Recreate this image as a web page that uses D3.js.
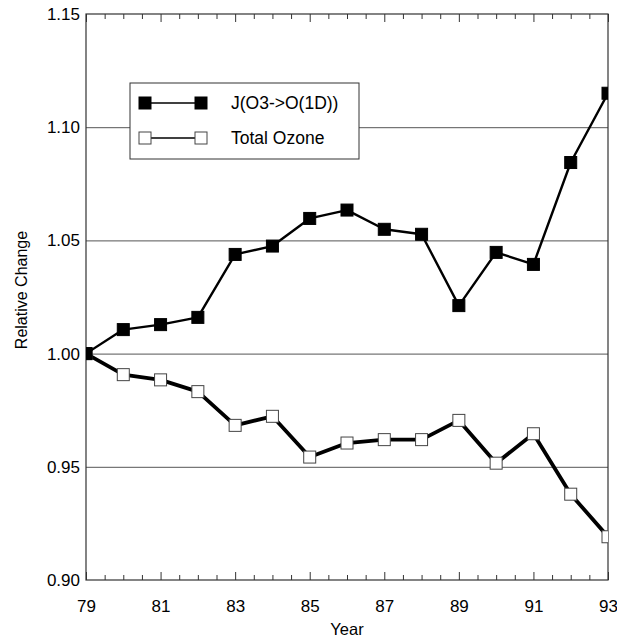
<!DOCTYPE html>
<html>
<head>
<meta charset="utf-8">
<script src="https://cdn.jsdelivr.net/npm/d3@7"></script>
<style>
  body { margin: 0; background: #fff; }
  svg text { font-family: "Liberation Sans", Arial, Helvetica, sans-serif; fill: #000; }
</style>
</head>
<body>
<svg id="chart" width="617" height="638"></svg>
<script>
// values
var years = [79, 80, 81, 82, 83, 84, 85, 86, 87, 88, 89, 90, 91, 92, 93];
var jValues = [1.000, 1.0106, 1.0128, 1.016, 1.0438, 1.0475, 1.0597, 1.0634, 1.0549, 1.0527, 1.0212, 1.0447, 1.0394, 1.0844, 1.115];
var ozoneValues = [1.000, 0.9907, 0.9884, 0.9832, 0.9683, 0.9723, 0.9543, 0.9605, 0.962, 0.962, 0.9705, 0.9516, 0.9646, 0.9379, 0.9191];
var yearLabels = [79, 81, 83, 85, 87, 89, 91, 93];
var minorYears = d3.range(79.5, 93, 0.5).filter(function (d) { return yearLabels.indexOf(d) < 0; });
var yTicks = [0.90, 0.95, 1.00, 1.05, 1.10, 1.15];
var gridTicks = [0.95, 1.00, 1.05, 1.10];
var seriesNames = ["J(O3->O(1D))", "Total Ozone"];

var padLeft = 86, padRight = 608, padTop = 14, padBottom = 580;
var w = padRight - padLeft, h = padBottom - padTop;

var svg = d3.select("#chart");

xScale = d3.scaleLinear()
  .domain([79, 93])
  .range([0, w]);

yScale = d3.scaleLinear()
  .domain([0.90, 1.15])
  .range([h, 0]);

var g = svg.append("g")
  .attr("transform", "translate(" + padLeft + "," + padTop + ")");

g.append("clipPath").attr("id", "plotclip")
  .append("rect").attr("width", w).attr("height", h);

//gridlines
g.append("g")
  .call(d3.axisLeft(yScale).tickValues(gridTicks).tickSize(-w).tickFormat(""))
  .call(function (s) { s.select(".domain").remove(); })
  .selectAll("line").attr("stroke", "#555").attr("stroke-width", 1);

//y labels
g.append("g")
  .call(d3.axisLeft(yScale).tickValues(yTicks).tickSize(0).tickPadding(6).tickFormat(d3.format(".2f")))
  .call(function (s) { s.select(".domain").remove(); })
  .selectAll("text").attr("font-size", 17).attr("fill", "#000");

//bottom axis, inward ticks
g.append("g")
  .attr("transform", "translate(0," + h + ")")
  .call(d3.axisBottom(xScale).tickValues(yearLabels).tickSize(-8).tickPadding(20).tickFormat(d3.format("d")))
  .call(function (s) { s.select(".domain").remove(); })
  .selectAll("text").attr("font-size", 17).attr("fill", "#000");

g.append("g")
  .attr("transform", "translate(0," + h + ")")
  .call(d3.axisBottom(xScale).tickValues(minorYears).tickSize(-5).tickFormat(""))
  .call(function (s) { s.select(".domain").remove(); });

//top axis ticks only
g.append("g")
  .call(d3.axisTop(xScale).tickValues(yearLabels).tickSize(-8).tickFormat(""))
  .call(function (s) { s.select(".domain").remove(); });

g.append("g")
  .call(d3.axisTop(xScale).tickValues(minorYears).tickSize(-5).tickFormat(""))
  .call(function (s) { s.select(".domain").remove(); });

g.selectAll(".tick line").filter(function () { return this.getAttribute("stroke") === "currentColor"; })
  .attr("stroke", "#333");

g.append("rect")
  .attr("width", w).attr("height", h)
  .attr("fill", "none").attr("stroke", "#333").attr("stroke-width", 1.2);

//series
var plot = g.append("g").attr("clip-path", "url(#plotclip)");

function drawSeries(values, fill, lineWidth) {
  var myLine = d3.line()
    .x(function (d, i) { return xScale(years[i]); })
    .y(function (d) { return yScale(d); });

  plot.append("path")
    .attr("d", myLine(values))
    .attr("fill", "none")
    .attr("stroke", "#000")
    .attr("stroke-width", lineWidth)
    .attr("stroke-linejoin", "round");

  plot.append("g").selectAll("rect")
    .data(values)
    .enter().append("rect")
    .attr("x", function (d, i) { return xScale(years[i]) - 6; })
    .attr("y", function (d) { return yScale(d) - 6; })
    .attr("width", 12).attr("height", 12)
    .attr("fill", fill)
    .attr("stroke", fill === "#000" ? "#000" : "#444")
    .attr("stroke-width", 1);
}

drawSeries(ozoneValues, "#fff", 3.8);
drawSeries(jValues, "#000", 2.4);

//legend
var legend = svg.append("g").attr("transform", "translate(130,83)");
legend.append("rect")
  .attr("width", 229).attr("height", 76)
  .attr("fill", "#fff").attr("stroke", "#333").attr("stroke-width", 1);

var legendFill = ["#000", "#fff"];
var row = legend.selectAll(".row")
  .data(seriesNames)
  .enter().append("g")
  .attr("transform", function (d, i) { return "translate(0," + (20 + i * 35) + ")"; });

row.append("line")
  .attr("x1", 15).attr("x2", 71).attr("y1", 0).attr("y2", 0)
  .attr("stroke", "#000").attr("stroke-width", 1.5);

[15, 71].forEach(function (cx) {
  row.append("rect")
    .attr("x", cx - 6).attr("y", -6).attr("width", 12).attr("height", 12)
    .attr("fill", function (d, i) { return legendFill[i]; })
    .attr("stroke", function (d, i) { return i === 0 ? "#000" : "#444"; });
});

row.append("text")
  .attr("x", 101).attr("y", 6)
  .attr("font-size", 17.5)
  .text(function (d) { return d; });

//axis titles
svg.append("text")
  .attr("transform", "translate(27," + (padTop + h / 2 - 7) + ") rotate(-90)")
  .attr("text-anchor", "middle")
  .attr("font-size", 16)
  .text("Relative Change");

svg.append("text")
  .attr("x", padLeft + w / 2).attr("y", 635)
  .attr("text-anchor", "middle")
  .attr("font-size", 16.5)
  .text("Year");
</script>
</body>
</html>
